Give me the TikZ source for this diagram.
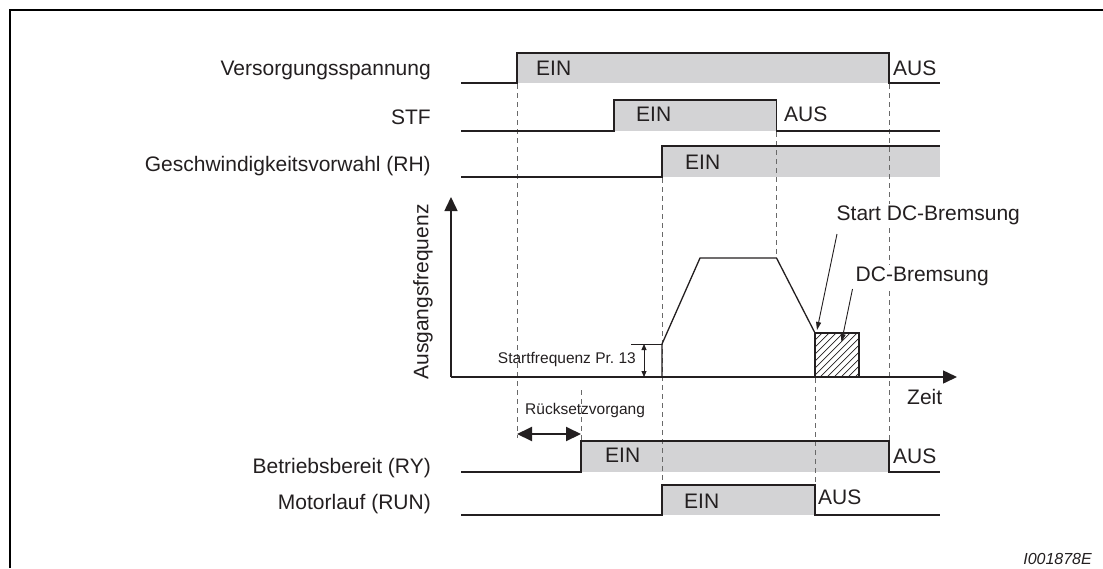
\documentclass[tikz,border=0pt]{standalone}
\usepackage{fontspec}
\setmainfont{Liberation Sans}
\usetikzlibrary{arrows.meta}
\definecolor{sig}{RGB}{35,31,32}
\definecolor{onfill}{RGB}{211,211,213}
\definecolor{dashc}{RGB}{105,105,105}
\begin{document}
\begin{tikzpicture}[x=1pt,y=-1pt,
  big/.style={font=\fontsize{21}{25}\selectfont, inner sep=0pt, text=sig},
  small/.style={font=\fontsize{15.5}{18}\selectfont, inner sep=0pt, text=sig},
  sigline/.style={draw=sig, line width=1.3pt, line join=miter},
  onbox/.style={fill=onfill, draw=none},
  guide/.style={draw=dashc, line width=0.9pt, dash pattern=on 5pt off 4pt},
  axis/.style={draw=sig, line width=1.5pt, -{Triangle[length=14pt,width=13pt]}},
  pointer/.style={draw=sig, line width=0.9pt, -{Triangle[length=8pt,width=5pt]}},
  whitebg/.style={fill=white, inner sep=1.5pt}]
\useasboundingbox (0,0) rectangle (1103,568);
% frame
\draw[line width=2pt, black] (9.5,568) -- (9.5,9.5) -- (1103,9.5);

% on-state fills
\fill[onbox] (517,53) rectangle (889,83);
\fill[onbox] (614,100) rectangle (776.5,131);
\fill[onbox] (662,146) rectangle (940,177);
\fill[onbox] (581,441) rectangle (889,472);
\fill[onbox] (662,485) rectangle (815,515);

% guide lines
\draw[guide] (517,84) -- (517,438);
\draw[guide] (581,390) -- (581,441);
\draw[guide] (662,178) -- (662,485);
\draw[guide] (776.5,132) -- (776.5,258);
\draw[guide] (815,378) -- (815,485);
\draw[guide] (889,84) -- (889,441);

% signal lines
\draw[sigline] (461,83) -- (517,83) -- (517,53) -- (889,53) -- (889,83) -- (940,83);
\draw[sigline] (461,131) -- (614,131) -- (614,100) -- (776.5,100) -- (776.5,131) -- (940,131);
\draw[sigline] (461,177) -- (662,177) -- (662,146) -- (940,146);
\draw[sigline] (461,472) -- (581,472) -- (581,441) -- (889,441) -- (889,472) -- (940,472);
\draw[sigline] (461,515) -- (662,515) -- (662,485) -- (815,485) -- (815,515) -- (940,515);

% left labels
\node[big, anchor=base east] (lvers) at (431,75.5) {Versorgungsspannung};
\node[big, anchor=base east] (lstf) at (431,124) {STF};
\node[big, anchor=base east] (lrh) at (431,171) {Geschwindigkeitsvorwahl (RH)};
\node[big, anchor=base east] (lry) at (431,473) {Betriebsbereit (RY)};
\node[big, anchor=base east] (lrun) at (431,509) {Motorlauf (RUN)};

% state labels
\node[big, anchor=base west] (vein) at (536,75.5) {EIN};
\node[big, anchor=base west] (vaus) at (893,75.5) {AUS};
\node[big, anchor=base west] (sein) at (636,121.5) {EIN};
\node[big, anchor=base west] (saus) at (784,121.5) {AUS};
\node[big, anchor=base west] (rhein) at (685,169.5) {EIN};
\node[big, anchor=base west] (ryein) at (605,462.5) {EIN};
\node[big, anchor=base west] (ryaus) at (893,463) {AUS};
\node[big, anchor=base west] (runein) at (684,508.5) {EIN};
\node[big, anchor=base west] (runaus) at (818,504.5) {AUS};

% axes
\coordinate (origin) at (451,377);
\coordinate (ytip) at (451,197);
\coordinate (xtip) at (957,377);
\draw[axis] (origin) -- (ytip);
\draw[axis] (origin) -- (xtip);
\node[big, rotate=90, anchor=center] (yl) at (423,292) {Ausgangsfrequenz};
\node[big, anchor=base west] (xl) at (907,404.5) {Zeit};

% hatched DC braking area
\begin{scope}
  \clip (815,333) rectangle (859,377);
  \foreach \k in {-44,-37,...,50} {
    \draw[sig, line width=0.7pt] (815+\k,377) -- ++(44,-44);
  }
\end{scope}
\draw[sigline] (815,333) rectangle (859,377);

% frequency curve
\draw[sigline] (662,377) -- (662,344) -- (700,258) -- (776.5,258) -- (815,333);

% start frequency
\coordinate (sfa) at (631,344);
\coordinate (sfb) at (662,344);
\draw[draw=sig, line width=0.8pt] (sfa) -- (sfb);
\coordinate (sft) at (644,344);
\coordinate (sfbot) at (644,377);
\draw[draw=sig, line width=0.9pt, {Triangle[length=6pt,width=5pt]}-{Triangle[length=6pt,width=5pt]}] (sft) -- (sfbot);
\node[small, anchor=base east] (sf) at (636,363.5) {Startfrequenz Pr.\ 13};

% DC braking labels
\node[big, whitebg, anchor=base west] (sdc) at (835,220.5) {Start DC-Bremsung};
\node[big, whitebg, anchor=base west] (dc) at (854,281.5) {DC-Bremsung};
\coordinate (sdcend) at (817,330);
\coordinate (dcend) at (841.5,342);
\draw[pointer] (837,234) -- (sdcend);
\draw[pointer] (852.5,289) -- (dcend);

% reset
\coordinate (ra) at (517,434);
\coordinate (rb) at (581,434);
\draw[draw=sig, line width=2pt, {Triangle[length=15pt,width=14pt]}-{Triangle[length=15pt,width=14pt]}] (ra) -- (rb);
\node[small, anchor=base west] (reset) at (525,414.5) {Rücksetzvorgang};

% figure id
\node[font=\fontsize{16}{19}\selectfont\itshape, inner sep=0pt, anchor=base east, text=sig] (fid) at (1092,564) {I001878E};
\end{tikzpicture}
\end{document}
